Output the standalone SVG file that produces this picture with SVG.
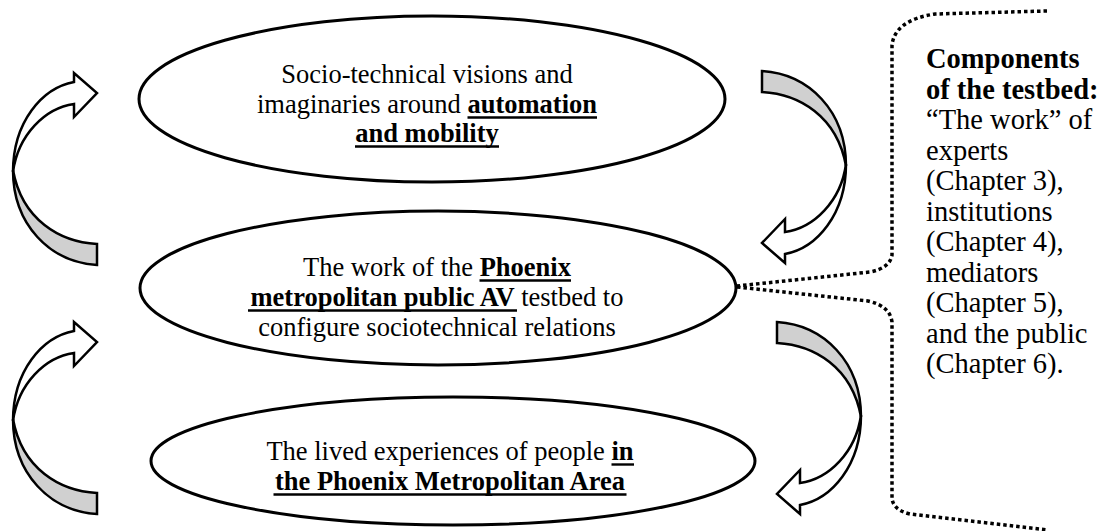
<svg xmlns="http://www.w3.org/2000/svg" width="1110" height="531" viewBox="0 0 1110 531">
<style>
.ell{fill:#fff;stroke:#000;stroke-width:3}
.t{font-family:"Liberation Serif","Times New Roman",serif;font-size:26.5px;fill:#000;text-anchor:middle}
.r{font-family:"Liberation Serif","Times New Roman",serif;font-size:28.5px;fill:#000}
.b{font-weight:bold}
.ul{stroke:#000;stroke-width:2.4}
.front{fill:#fff;stroke:#000;stroke-width:2.5;stroke-linejoin:miter}
.back{fill:#d0d0d0;stroke:#000;stroke-width:2.5}
.dot{fill:none;stroke:#000;stroke-width:3.5;stroke-dasharray:3.5 3}
</style>
<defs>
<g id="carrow">
<path class="back" d="M13,170 C13,225 50,262 97,265 L97,244 C60,242 22,220 13,170 Z"/>
<path class="front" d="M74,82 L74,73 L97,93 L74,117 L74,104 C45,108 18,135 13,172 C13,122 42,88 74,82 Z"/>
</g>
</defs>
<g id="connectors">
<use href="#carrow"/>
<use href="#carrow" transform="translate(0,249)"/>
<use href="#carrow" transform="rotate(180,429.5,168)"/>
<use href="#carrow" transform="translate(15,251) rotate(180,429.5,168)"/>
<path class="dot" d="M1047,11 L935,14 Q895,20 892,45 L892,255 Q890,268 870,272 L737,286"/>
<path class="dot" d="M737,287 L868,301 Q890,306 892,322 L892,498 Q893,510 910,514 L1048,530"/>
</g>
<g id="node-visions">
<ellipse class="ell" cx="432" cy="99" rx="293" ry="83"/>
<text class="t" x="427" y="83">Socio-technical visions and</text>
<text class="t" x="427" y="113">imaginaries around <tspan class="b">automation</tspan></text>
<text class="t" x="427" y="142"><tspan class="b">and mobility</tspan></text>
<line class="ul" x1="467.5" y1="117.5" x2="597" y2="117.5"/>
<line class="ul" x1="355" y1="146.5" x2="499" y2="146.5"/>
</g>
<g id="node-testbed">
<ellipse class="ell" cx="438" cy="288" rx="298" ry="77"/>
<text class="t" x="437" y="276">The work of the <tspan class="b">Phoenix</tspan></text>
<text class="t" x="437" y="306"><tspan class="b">metropolitan public AV</tspan> testbed to</text>
<text class="t" x="437" y="336">configure sociotechnical relations</text>
<line class="ul" x1="479.5" y1="280.5" x2="571" y2="280.5"/>
<line class="ul" x1="248" y1="310.5" x2="517" y2="310.5"/>
</g>
<g id="node-lived">
<ellipse class="ell" cx="453" cy="461" rx="302" ry="64"/>
<text class="t" x="450" y="460">The lived experiences of people <tspan class="b">in</tspan></text>
<text class="t" x="450" y="490"><tspan class="b">the Phoenix Metropolitan Area</tspan></text>
<line class="ul" x1="611.5" y1="464.5" x2="634" y2="464.5"/>
<line class="ul" x1="273.5" y1="494.5" x2="626.5" y2="494.5"/>
</g>
<g id="node-components">
<text class="r" x="926" y="68"><tspan class="b">Components</tspan></text>
<text class="r" x="926" y="98.5"><tspan class="b">of the testbed:</tspan></text>
<text class="r" x="926" y="129">“The work” of</text>
<text class="r" x="926" y="159.5">experts</text>
<text class="r" x="926" y="190">(Chapter 3),</text>
<text class="r" x="926" y="220.5">institutions</text>
<text class="r" x="926" y="251">(Chapter 4),</text>
<text class="r" x="926" y="281.5">mediators</text>
<text class="r" x="926" y="312">(Chapter 5),</text>
<text class="r" x="926" y="342.5">and the public</text>
<text class="r" x="926" y="373">(Chapter 6).</text>
</g>
</svg>
